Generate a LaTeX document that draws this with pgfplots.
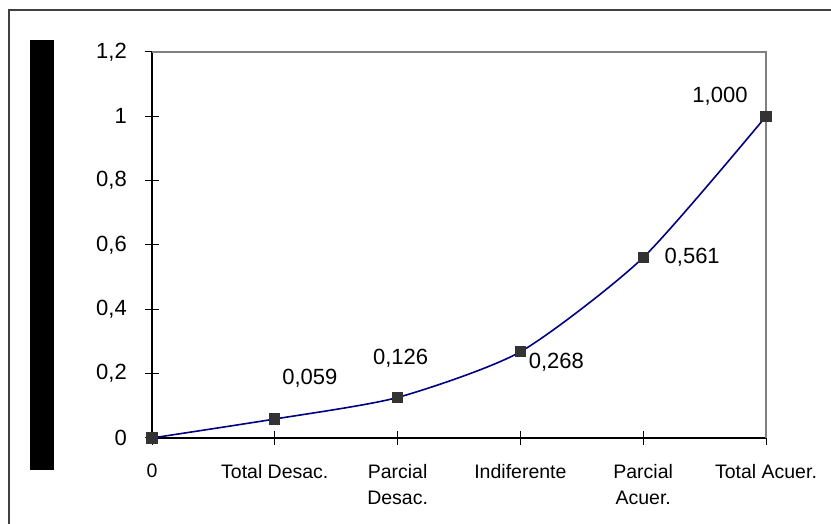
\documentclass[border=0pt]{standalone}
\usepackage{fontspec}
\setmainfont{Liberation Sans}
\usepackage{pgfplots}
\pgfplotsset{compat=1.18}
\definecolor{navyline}{HTML}{000080}
\definecolor{markgray}{HTML}{333333}
\begin{document}
\begin{tikzpicture}[x=1pt,y=1pt]
\path[use as bounding box] (0,0) rectangle (831,524);
\draw[line width=2pt, draw=black!75] (9,0) -- (9,514) -- (831,514);
\fill[black] (30,54) rectangle (54,484);
\begin{axis}[
  at={(152pt,86pt)}, anchor=south west,
  scale only axis, width=614pt, height=386pt,
  xmin=0, xmax=5, ymin=0, ymax=1.2,
  axis x line*=bottom, axis y line*=left,
  axis line style={black, line width=1.2pt, -},
  xtick={0,1,2,3,4,5},
  xticklabels={0, Total Desac., {Parcial\\Desac.}, Indiferente, {Parcial\\Acuer.}, Total Acuer.},
  ytick={0,0.2,0.4,0.6,0.8,1,1.2},
  yticklabels={0,{0,2},{0,4},{0,6},{0,8},1,{1,2}},
  tick align=center, major tick length=14pt,
  tick style={black, line width=1pt},
  /pgf/number format/assume math mode=true,
  yticklabel style={font=\fontsize{22}{24}\selectfont, anchor=east, inner sep=0pt, xshift=-18pt},
  xticklabel style={font=\fontsize{19.5}{26}\selectfont, align=center, anchor=north, inner sep=0pt, yshift=-19pt},
  clip=false,
]
\draw[gray, line width=1.5pt] (rel axis cs:0,1) -- (rel axis cs:1,1) -- (rel axis cs:1,0);
\addplot[navyline, line width=1.6pt, smooth, tension=0.4, mark=square*, mark size=4.8pt, mark options={fill=markgray, draw=markgray, solid}]
  coordinates {(0,0) (1,0.059) (2,0.126) (3,0.268) (4,0.561) (5,1.000)};
\begin{scope}[every node/.style={font=\fontsize{22}{24}\selectfont, inner sep=0pt}]
\node at (axis cs:1,0.059) [xshift=35pt, yshift=41pt] {0,059};
\node at (axis cs:2,0.126) [xshift=3pt, yshift=39pt] {0,126};
\node at (axis cs:3,0.268) [xshift=36pt, yshift=-10pt] {0,268};
\node at (axis cs:4,0.561) [xshift=49pt, yshift=0pt] {0,561};
\node at (axis cs:5,1.000) [xshift=-46pt, yshift=20pt] {1,000};
\end{scope}
\end{axis}
\end{tikzpicture}
\end{document}
